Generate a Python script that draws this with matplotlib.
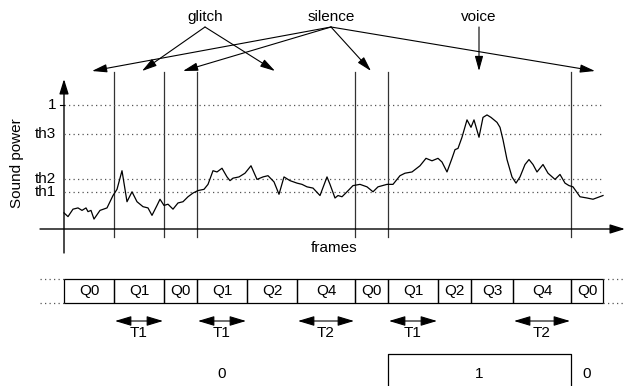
import matplotlib
matplotlib.use("Agg")
import matplotlib.pyplot as plt
from matplotlib.transforms import blended_transform_factory
from matplotlib.patches import Rectangle

plt.rcParams['font.family'] = ['Liberation Sans', 'DejaVu Sans']

# ---- signal: sound power per frame ----
frames = [0, 4, 9, 14, 18, 22, 24, 27, 30, 36, 43, 49, 53, 55, 58, 60, 63, 68, 73, 79,
          84, 88, 93, 96, 100, 104, 109, 114, 119, 124, 129, 134, 140, 144, 149, 153,
          158, 163, 166, 169, 175, 181, 187, 193, 199, 204, 210, 215, 220, 226, 233,
          238, 243, 249, 256, 263, 266, 271, 274, 278, 283, 289, 296, 303, 309, 314,
          323, 329, 336, 341, 348, 356, 362, 368, 374, 378, 383, 388, 391, 394, 398,
          403, 407, 410, 415, 419, 423, 427, 433, 436, 439, 443, 448, 452, 456, 461,
          465, 469, 473, 479, 484, 491, 496, 501, 505, 509, 516, 523, 529, 539]
power = [0.13, 0.10, 0.16, 0.17, 0.15, 0.17, 0.14, 0.15, 0.08, 0.15, 0.17, 0.27,
         0.32, 0.38, 0.47, 0.37, 0.22, 0.30, 0.22, 0.18, 0.17, 0.11, 0.19, 0.24,
         0.19, 0.20, 0.16, 0.21, 0.22, 0.26, 0.29, 0.31, 0.32, 0.36, 0.47, 0.46,
         0.49, 0.42, 0.39, 0.41, 0.42, 0.45, 0.51, 0.40, 0.42, 0.43, 0.38, 0.28,
         0.42, 0.39, 0.37, 0.36, 0.34, 0.33, 0.27, 0.42, 0.36, 0.25, 0.27, 0.26,
         0.30, 0.35, 0.36, 0.34, 0.30, 0.34, 0.36, 0.36, 0.43, 0.45, 0.46, 0.51,
         0.57, 0.55, 0.57, 0.54, 0.46, 0.57, 0.64, 0.65, 0.74, 0.88, 0.82, 0.88,
         0.74, 0.90, 0.92, 0.90, 0.86, 0.82, 0.72, 0.56, 0.42, 0.37, 0.42, 0.52,
         0.56, 0.52, 0.46, 0.52, 0.45, 0.40, 0.44, 0.37, 0.35, 0.34, 0.26, 0.25,
         0.24, 0.27]

level_names = ['1', 'th3', 'th2', 'th1']
level_values = [1.0, 0.77, 0.40, 0.30]

# ---- segmentation ----
boundaries = [50, 100, 133, 291, 324, 507]
seg_edges = [0, 50, 100, 133, 183, 233, 291, 324, 374, 407, 449, 507, 539]
seg_states = ['Q0', 'Q1', 'Q0', 'Q1', 'Q2', 'Q4', 'Q0', 'Q1', 'Q2', 'Q3', 'Q4', 'Q0']
timer_for_state = {'Q1': 'T1', 'Q4': 'T2'}

# event labels and the frames their arrows point at
events = ['glitch', 'silence', 'voice']
event_label_frames = [141, 267, 415]
event_targets = [[78, 211], [28, 119, 307, 531], [415]]

# decision output
decision_labels = ['0', '1', '0']
decision_frames = [158, 415, 523]
voice_span = [324, 507]

# ---- figure ----
W, H = 625, 386
fig = plt.figure(figsize=(W / 100, H / 100), dpi=100)
ax = fig.add_axes([0, 0, 1, 1])
ax.set_xlim(0, W)
ax.set_ylim(H, 0)
ax.axis('off')

# signal axes: frame 0 at x=64, power 0..1 between y=229 and y=105
x_left, x_right, y_base, y_top = 64, 603, 229, 105
sig = fig.add_axes([x_left / W, (H - y_base) / H, (x_right - x_left) / W, (y_base - y_top) / H])
sig.set_xlim(0, x_right - x_left)
sig.set_ylim(0, 1)
sig.axis('off')
sig.patch.set_alpha(0)

tr = blended_transform_factory(sig.transData, ax.transData)
lw = 0.8
fs = 11
dots = (0, (1, 2.6))

# threshold levels
for name, v in zip(level_names, level_values):
    sig.plot([0, x_right - x_left], [v, v], color='#555555', lw=0.9,
             linestyle=dots, clip_on=False)
    sig.text(-8, v, name, ha='right', va='center', fontsize=fs)
sig.plot([-4, 0], [1, 1], color='black', lw=lw, clip_on=False)

sig.plot(frames, power, color='black', lw=0.9, clip_on=False)

# axes with arrows
axis_head = dict(arrowstyle='-|>,head_length=0.9,head_width=0.28', color='black',
                 lw=1.0, shrinkA=0, shrinkB=0, mutation_scale=10)
ax.annotate('', xy=(x_left, 79), xytext=(x_left, 253), arrowprops=axis_head)
ax.annotate('', xy=(625, y_base), xytext=(40, y_base), arrowprops=axis_head)
ax.text(17, 163, 'Sound power', rotation=90, ha='center', va='center', fontsize=fs)
ax.text(334, 248, 'frames', ha='center', va='center', fontsize=fs)

# segment boundaries
for b in boundaries:
    ax.plot([b, b], [72, 237], color='#333333', lw=0.9, transform=tr)

# event annotations
head = dict(arrowstyle='-|>,head_length=0.9,head_width=0.25', color='black',
            lw=0.8, shrinkA=0, shrinkB=0, mutation_scale=10)
for name, fx, targets in zip(events, event_label_frames, event_targets):
    ax.text(fx, 17, name, ha='center', va='center', fontsize=fs, transform=tr)
    for t in targets:
        ax.annotate('', xy=(t, 71), xytext=(fx, 27), xycoords=tr, textcoords=tr,
                    arrowprops=head)

# state row
row_top, row_bot = 279, 303
for i, st in enumerate(seg_states):
    a, b = seg_edges[i], seg_edges[i + 1]
    ax.add_patch(Rectangle((a, row_top), b - a, row_bot - row_top, fill=False,
                           edgecolor='black', lw=0.9, transform=tr))
    ax.text((a + b) / 2, (row_top + row_bot) / 2 + 0.5, st, ha='center', va='center',
            fontsize=fs, transform=tr)
    if st in timer_for_state:
        ax.annotate('', xy=(a + 1, 321), xytext=(b - 1, 321), xycoords=tr, textcoords=tr,
                    arrowprops=dict(arrowstyle='<|-|>,head_length=1.0,head_width=0.3',
                                    color='black', lw=0.8, shrinkA=0, shrinkB=0,
                                    mutation_scale=10))
        ax.text((a + b) / 2, 333, timer_for_state[st], ha='center', va='center',
                fontsize=fs, transform=tr)
for yy in (row_top, row_bot):
    ax.plot([40, x_left], [yy, yy], color='#555555', lw=0.9, linestyle=dots)
    ax.plot([x_right, 625], [yy, yy], color='#555555', lw=0.9, linestyle=dots)

# decision output
ax.plot([voice_span[0], voice_span[0], voice_span[1], voice_span[1]],
        [386, 354, 354, 386], color='black', lw=0.9, transform=tr)
for lab, fx in zip(decision_labels, decision_frames):
    ax.text(fx, 374, lab, ha='center', va='center', fontsize=fs, transform=tr)

fig.savefig('out.png', dpi=100)
